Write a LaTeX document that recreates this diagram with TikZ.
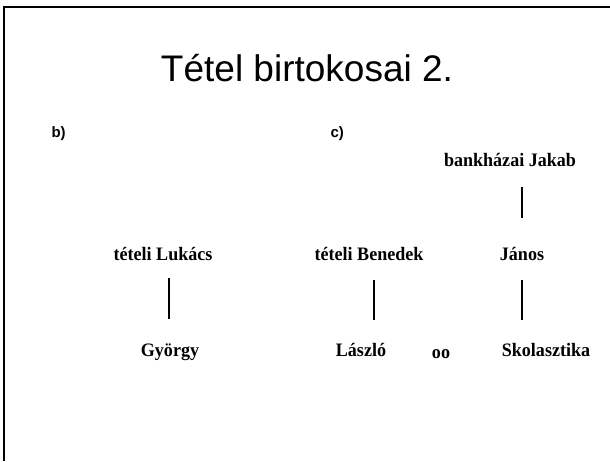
\documentclass[tikz,border=0pt]{standalone}
\usepackage{fontspec}
\setmainfont{Liberation Sans}
\newfontfamily\namefont[FakeStretch=0.95]{Liberation Serif}
\tikzset{
  frame/.style={line width=2pt, black},
  title/.style={font=\fontsize{37}{40}\selectfont, anchor=base},
  tag/.style={font=\bfseries\fontsize{15}{17}\selectfont, anchor=base west},
  person/.style={font=\namefont\bfseries\fontsize{19}{21}\selectfont, anchor=base, inner sep=4pt},
  link/.style={line width=1.6pt, black}
}
\begin{document}
\begin{tikzpicture}[x=1pt,y=-1pt]
\useasboundingbox (0,0) rectangle (610,461);
\fill[white] (0,0) rectangle (610,461);
\draw[frame] (4,461) -- (4,7) -- (610,7);
\node[title] (t) at (307,81) {Tétel birtokosai 2.};
\node[tag] (b) at (48,137) {b)};
\node[tag] (c) at (327,137) {c)};
% b)
\node[person] (lukacs) at (163,260) {tételi Lukács};
\node[person] (gyorgy) at (170,356) {György};
\coordinate (l1a) at (169,278);
\coordinate (l1b) at (169,319);
\draw[link] (l1a) -- (l1b);
% c)
\node[person] (jakab) at (510,166) {bankházai Jakab};
\node[person] (janos) at (522,260) {János};
\node[person] (benedek) at (369,260) {tételi Benedek};
\node[person] (laszlo) at (361,356) {László};
\node[person] (oo) at (441,358) {oo};
\node[person] (skol) at (546,356) {Skolasztika};
\coordinate (j1) at (522,187);
\coordinate (j2) at (522,218);
\coordinate (j3) at (522,280);
\coordinate (j4) at (522,320);
\coordinate (b1) at (374,280);
\coordinate (b2) at (374,320);
\draw[link] (j1) -- (j2);
\draw[link] (j3) -- (j4);
\draw[link] (b1) -- (b2);
\end{tikzpicture}
\end{document}
